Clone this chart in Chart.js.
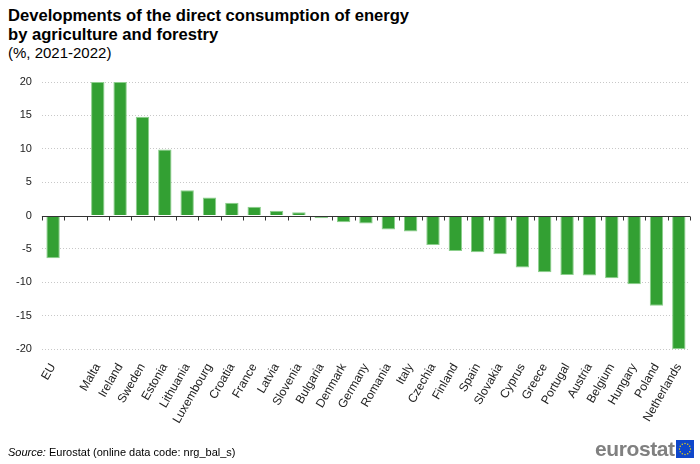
<!DOCTYPE html>
<html>
<head>
<meta charset="utf-8">
<script src="https://cdn.jsdelivr.net/npm/chart.js@4/dist/chart.umd.min.js"></script>
<style>
  html, body { margin: 0; padding: 0; background: #fff; }
  body { width: 700px; height: 464px; position: relative; overflow: hidden; font-family: "Liberation Sans", Arial, sans-serif; color: #000; }
  #title { position: absolute; left: 8px; top: 6px; font-weight: bold; font-size: 16.6px; line-height: 19px; }
  #subtitle { position: absolute; left: 8px; top: 44px; font-size: 15px; line-height: 18px; }
  #wrap { position: absolute; left: 0; top: 0; width: 700px; height: 464px; }
  #source { position: absolute; left: 8px; top: 446px; font-size: 11px; color: #000; }
  #logo { position: absolute; left: 595px; top: 439px; height: 20px; display: flex; align-items: center; }
  #logo span { font-weight: bold; font-size: 21px; color: #808080; letter-spacing: -0.4px; line-height: 20px; }
</style>
</head>
<body>
<div id="title">Developments of the direct consumption of energy<br>by agriculture and forestry</div>
<div id="subtitle">(%, 2021-2022)</div>
<div id="wrap"><canvas id="c" width="700" height="464"></canvas></div>
<div id="source"><i>Source:</i> Eurostat (online data code: nrg_bal_s)</div>
<div id="logo"><span>eurostat</span><svg width="18" height="18" viewBox="0 0 18 18" style="margin-left:1px">
<rect width="18" height="18" fill="#0e47cb"/>
<g fill="#ffdd00">
<circle cx="9" cy="3.5" r="0.7"/><circle cx="11.75" cy="4.24" r="0.7"/><circle cx="13.76" cy="6.25" r="0.7"/>
<circle cx="14.5" cy="9" r="0.7"/><circle cx="13.76" cy="11.75" r="0.7"/><circle cx="11.75" cy="13.76" r="0.7"/>
<circle cx="9" cy="14.5" r="0.7"/><circle cx="6.25" cy="13.76" r="0.7"/><circle cx="4.24" cy="11.75" r="0.7"/>
<circle cx="3.5" cy="9" r="0.7"/><circle cx="4.24" cy="6.25" r="0.7"/><circle cx="6.25" cy="4.24" r="0.7"/>
</g></svg></div>
<script>
const categories = ["EU", "", "Malta", "Ireland", "Sweden", "Estonia", "Lithuania", "Luxembourg", "Croatia", "France", "Latvia", "Slovenia", "Bulgaria", "Denmark", "Germany", "Romania", "Italy", "Czechia", "Finland", "Spain", "Slovakia", "Cyprus", "Greece", "Portugal", "Austria", "Belgium", "Hungary", "Poland", "Netherlands"];
const changePct = [-6.4, null, 20, 20, 14.8, 9.9, 3.8, 2.7, 1.9, 1.3, 0.7, 0.5, -0.4, -1.0, -1.2, -2.1, -2.4, -4.4, -5.3, -5.5, -5.8, -7.8, -8.5, -8.9, -9.0, -9.4, -10.3, -13.5, -20];
const yTicks = [-20, -15, -10, -5, 0, 5, 10, 15, 20];

const zeroLine = {
  id: 'zeroLine',
  afterDatasetsDraw(chart) {
    const {ctx, chartArea, scales} = chart;
    const x = scales.x, y = scales.y;
    const y0 = Math.round(y.getPixelForValue(0)) + 0.5;
    ctx.save();
    ctx.strokeStyle = '#333';
    ctx.lineWidth = 1;
    ctx.beginPath();
    ctx.moveTo(chartArea.left, y0);
    ctx.lineTo(chartArea.right, y0);
    const n = categories.length;
    for (let i = 0; i <= n; i++) {
      let px;
      if (i === 0) px = chartArea.left;
      else if (i === n) px = chartArea.right;
      else px = (x.getPixelForValue(i - 1) + x.getPixelForValue(i)) / 2;
      px = Math.round(px) + 0.5;
      ctx.moveTo(px, y0);
      ctx.lineTo(px, y0 + 4);
    }
    ctx.stroke();
    ctx.restore();
  }
};

new Chart(document.getElementById('c'), {
  type: 'bar',
  data: {
    labels: categories,
    datasets: [{
      data: changePct,
      backgroundColor: '#33a033',
      borderColor: '#8ccf8c',
      borderWidth: 1,
      categoryPercentage: 1,
      barPercentage: 0.6
    }]
  },
  options: {
    responsive: false,
    animation: false,
    devicePixelRatio: 1,
    layout: { padding: { left: 6, right: 10, top: 82, bottom: 34 } },
    plugins: { legend: { display: false }, tooltip: { enabled: false } },
    scales: {
      x: {
        grid: { display: false },
        border: { display: false },
        ticks: {
          autoSkip: false, maxRotation: 60, minRotation: 60, padding: 4,
          color: '#222', font: { family: '"Liberation Sans", Arial, sans-serif', size: 12 }
        }
      },
      y: {
        min: -20, max: 20,
        afterBuildTicks(s) { s.ticks = yTicks.map(v => ({ value: v })); },
        border: { display: false, dash: [1, 2] },
        grid: {
          color: (c) => c.tick && c.tick.value === 0 ? 'rgba(0,0,0,0)' : '#c8c8c8',
          drawTicks: false,
          lineWidth: 1
        },
        ticks: {
          padding: 10, color: '#222',
          font: { family: '"Liberation Sans", Arial, sans-serif', size: 11 }
        }
      }
    }
  },
  plugins: [zeroLine]
});
</script>
</body>
</html>
